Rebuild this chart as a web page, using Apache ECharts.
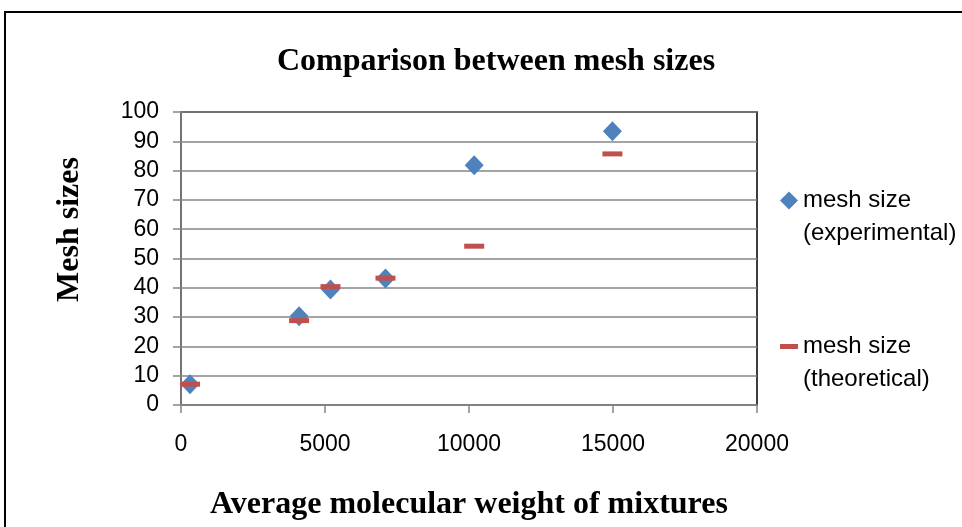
<!DOCTYPE html>
<html>
<head>
<meta charset="utf-8">
<script src="https://cdn.jsdelivr.net/npm/echarts@6/dist/echarts.min.js"></script>
<style>html,body{margin:0;padding:0;background:#fff}#c{width:962px;height:527px}</style>
</head>
<body>
<div id="c"></div>
<script>
const molWeight = [312, 4100, 5190, 7100, 10180, 14980];
const experimental = [7.1, 30.3, 39.4, 43.2, 81.8, 93.4];
const theoretical = [7.1, 28.8, 40.4, 43.3, 54.2, 85.7];
const xTicks = [0, 5000, 10000, 15000, 20000];
const yTicks = [0, 10, 20, 30, 40, 50, 60, 70, 80, 90, 100];
const seriesNames = ['mesh size\n(experimental)', 'mesh size\n(theoretical)'];
const titleText = 'Comparison between mesh sizes';
const xName = 'Average molecular weight of mixtures';
const yName = 'Mesh sizes';

const chart = echarts.init(document.getElementById('c'), null, {renderer: 'canvas'});
const serif = "'Liberation Serif', 'Times New Roman', serif";
const sans = "'Liberation Sans', Arial, sans-serif";
const gray = '#868686';
const legendText = {fontFamily: sans, fontSize: 24, color: '#000', lineHeight: 33};

chart.setOption({
  animation: false,
  backgroundColor: '#fff',
  title: {
    text: titleText, left: 496, top: 46, padding: 0, textAlign: 'center',
    textStyle: {fontFamily: serif, fontWeight: 'bold', fontSize: 32, color: '#000'}
  },
  graphic: [{
    type: 'rect', shape: {x: 5, y: 12, width: 1000, height: 600},
    style: {fill: 'none', stroke: '#000', lineWidth: 2}, silent: true
  }],
  legend: [{
    data: [{name: seriesNames[0], icon: 'diamond'}],
    left: 780, top: 151, padding: 0, itemWidth: 18, itemHeight: 18,
    selectedMode: false, textStyle: legendText,
    formatter: name => '\n' + name
  }, {
    data: [{name: seriesNames[1], icon: 'rect'}],
    left: 780, top: 297, padding: 0, itemWidth: 18, itemHeight: 5,
    selectedMode: false, textStyle: legendText,
    formatter: name => '\n' + name
  }],
  grid: {left: 181, right: 205, top: 112, bottom: 122, show: true,
    borderColor: '#000', borderWidth: 1.5, backgroundColor: 'transparent'},
  xAxis: {
    type: 'value', min: xTicks[0], max: xTicks[xTicks.length - 1], interval: 5000,
    name: xName, nameLocation: 'middle', nameGap: 84,
    nameTextStyle: {fontFamily: serif, fontWeight: 'bold', fontSize: 32, color: '#000'},
    axisLine: {show: true, lineStyle: {color: gray, width: 1.5}},
    axisTick: {show: true, inside: false, length: 8, lineStyle: {color: gray, width: 1.5}},
    axisLabel: {fontFamily: sans, fontSize: 23, color: '#000', margin: 28,
      formatter: v => String(v)},
    splitLine: {show: false}
  },
  yAxis: {
    type: 'value', min: yTicks[0], max: yTicks[yTicks.length - 1], interval: 10,
    name: yName, nameLocation: 'middle', nameGap: 95, nameRotate: 90,
    nameTextStyle: {fontFamily: serif, fontWeight: 'bold', fontSize: 32, color: '#000',
      padding: [0, 0, 0, 58]},
    axisLine: {show: true, lineStyle: {color: gray, width: 1.5}},
    axisTick: {show: true, inside: false, length: 8, lineStyle: {color: gray, width: 1.5}},
    axisLabel: {fontFamily: sans, fontSize: 23, color: '#000', margin: 22},
    splitLine: {show: true, lineStyle: {color: gray, width: 1.5}}
  },
  series: [{
    name: seriesNames[0], type: 'scatter', symbol: 'diamond', symbolSize: [19, 20],
    itemStyle: {color: '#4F81BD', opacity: 1}, z: 3,
    data: molWeight.map((x, i) => [x, experimental[i]])
  }, {
    name: seriesNames[1], type: 'scatter', symbol: 'rect', symbolSize: [20, 5],
    itemStyle: {color: '#C0504D', opacity: 1}, z: 4,
    data: molWeight.map((x, i) => [x, theoretical[i]])
  }]
});
</script>
</body>
</html>
